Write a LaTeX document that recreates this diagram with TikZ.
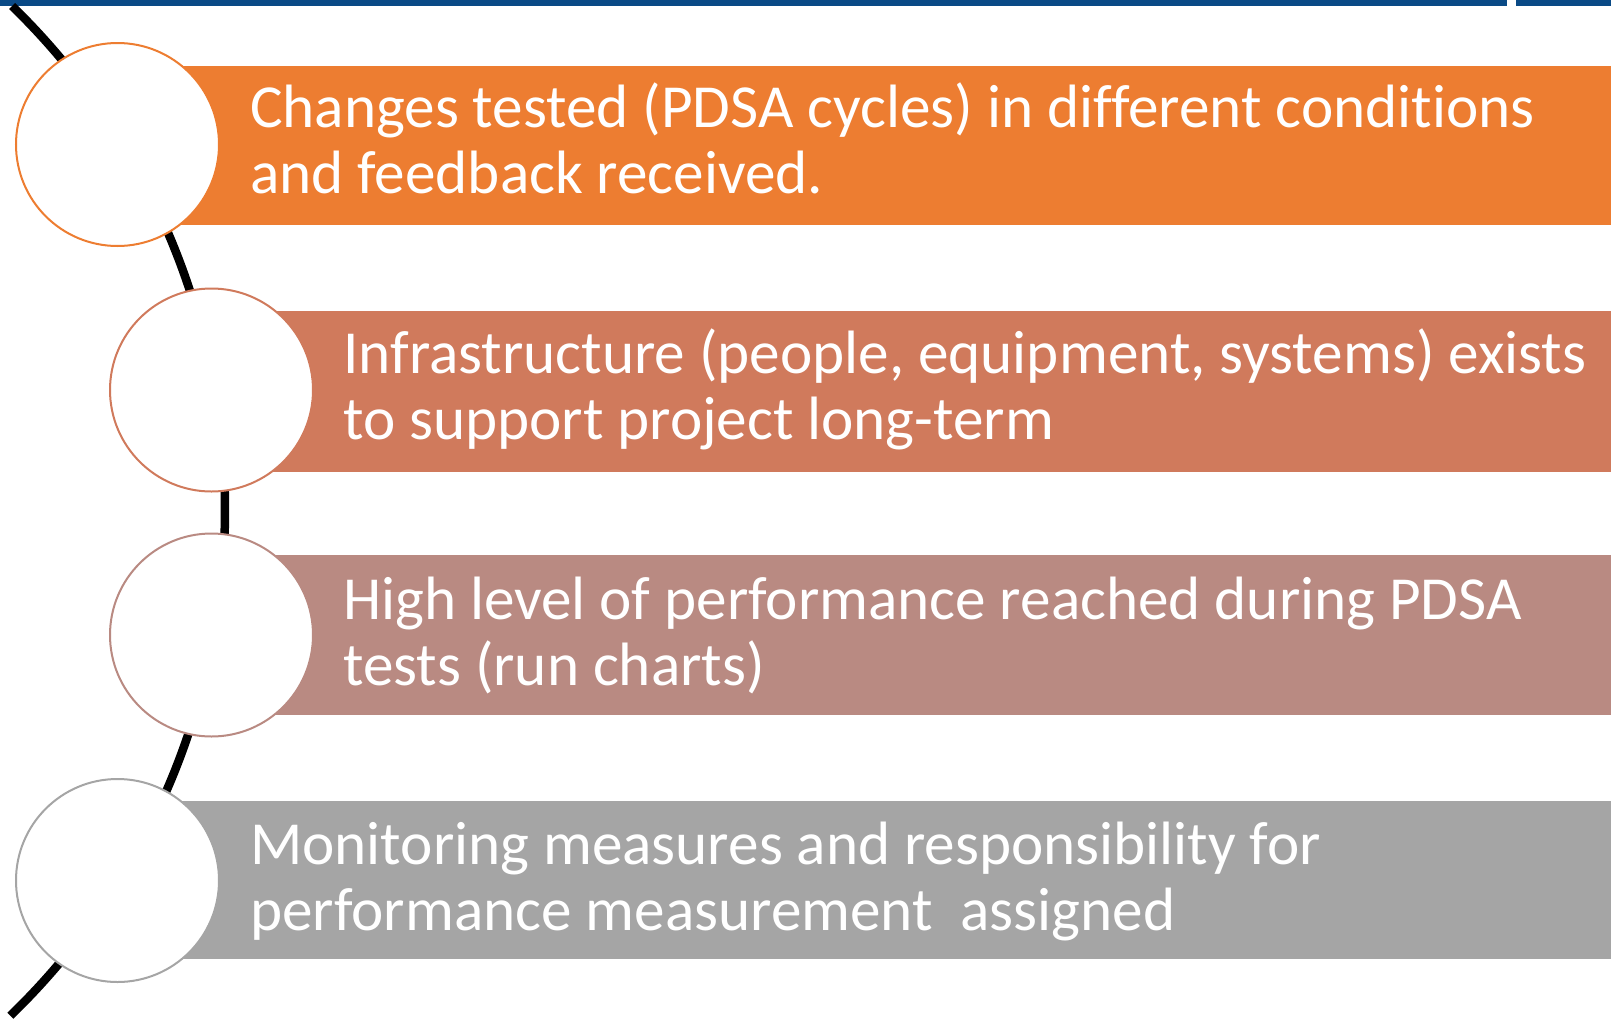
\documentclass[tikz,border=0pt]{standalone}
\usepackage{fontspec}
\setmainfont{Carlito}[Ligatures={NoCommon}]
\definecolor{barblue}{HTML}{0A4A86}
\definecolor{cA}{HTML}{ED7D31}
\definecolor{cB}{HTML}{D07A5C}
\definecolor{cC}{HTML}{B98A82}
\definecolor{cD}{HTML}{A5A5A5}
\tikzset{
  band/.style={fill=#1, draw=none},
  disc/.style={circle, fill=white, draw=#1, line width=2pt, minimum size=203pt, inner sep=0pt},
  label/.style={anchor=base west, align=left, text=white, inner sep=0pt, font=\fontsize{61.2}{66}\selectfont},
}
\begin{document}
\begin{tikzpicture}[x=1pt, y=-1pt]
\useasboundingbox (0,0) rectangle (1611,1020);
% top bar
\fill[barblue] (0,0) rectangle (1507,6);
\fill[barblue] (1516,0) rectangle (1611,6);
% arc
\draw[line width=8.5pt] ([shift={(-478,510)}]-45.8:703) coordinate (arcs)
  arc[start angle=-45.8, end angle=46.0, radius=703] coordinate (arce);
% bands
\fill[band=cA] (117,66) rectangle (1611,225);
\fill[band=cB] (211,311) rectangle (1611,472);
\fill[band=cC] (211,555) rectangle (1611,715);
\fill[band=cD] (117,801) rectangle (1611,959);
% circles
\node[disc=cA] (c1) at (117.5,144.5) {};
\node[disc=cB] (c2) at (211.5,390) {};
\node[disc=cC] (c3) at (211.5,635) {};
\node[disc=cD] (c4) at (117.5,880.5) {};
% texts (anchored at the baseline of the last line)
\node[label] (t1) at (250,193) {Changes tested (PDSA cycles) in different conditions\\and feedback received.};
\node[label] (t2) at (343,439) {Infrastructure (people, equipment, systems) exists\\to support project long-term};
\node[label] (t3) at (343,685.5) {High level of performance reached during PDSA\\tests (run charts)};
\node[label] (t4) at (250,930) {Monitoring measures and responsibility for\\performance measurement\ \ assigned};
\end{tikzpicture}
\end{document}
